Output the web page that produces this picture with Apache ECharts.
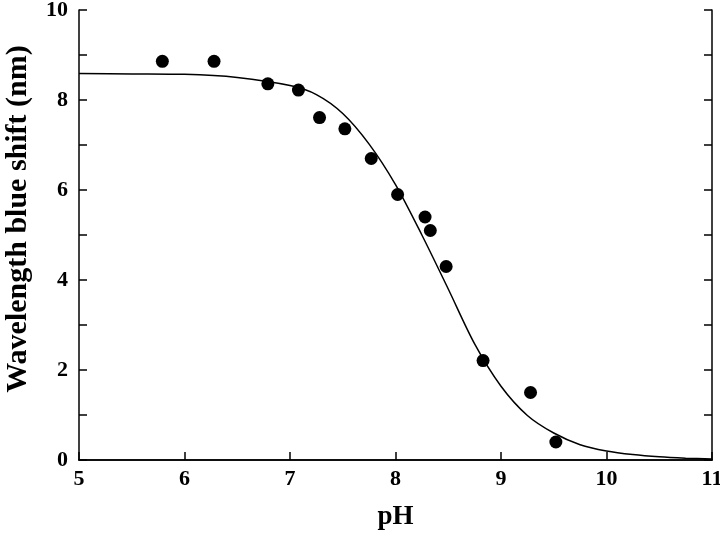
<!DOCTYPE html>
<html><head><meta charset="utf-8">
<script src="https://cdn.jsdelivr.net/npm/echarts@6/dist/echarts.min.js"></script>
<style>html,body{margin:0;padding:0;background:#fff}#c{width:720px;height:533px}</style>
</head><body><div id="c"></div>
<script>
const pointsX = [5.79, 6.28, 6.79, 7.08, 7.28, 7.52, 7.77, 8.02, 8.28, 8.33, 8.48, 8.83, 9.28, 9.52];
const pointsY = [8.86, 8.86, 8.36, 8.22, 7.61, 7.36, 6.70, 5.90, 5.40, 5.10, 4.30, 2.21, 1.50, 0.40];
const curveX = [5.0, 5.5, 6.0, 6.5, 7.0, 7.25, 7.5, 7.75, 8.0, 8.25, 8.5, 8.75, 9.0, 9.25, 9.5, 9.75, 10.0, 10.25, 10.5, 10.75, 11.0];
const curveY = [8.59, 8.58, 8.57, 8.50, 8.32, 8.12, 7.70, 7.02, 6.12, 5.00, 3.80, 2.58, 1.64, 0.99, 0.60, 0.34, 0.20, 0.12, 0.07, 0.04, 0.02];
const xTitle = 'pH';
const yTitle = 'Wavelength blue shift (nm)';

const font = '"Liberation Serif", "Times New Roman", serif';
const chart = echarts.init(document.getElementById('c'), null, {renderer: 'canvas'});
const lineStyle = {color: '#000', width: 1.5};
chart.setOption({
  animation: false,
  backgroundColor: '#fff',
  grid: {left: 79, right: 8, top: 10, bottom: 73, containLabel: false, outerBoundsMode: 'none'},
  xAxis: [{
    type: 'value', min: 5, max: 11, interval: 1, position: 'bottom',
    name: xTitle, nameLocation: 'middle', nameGap: 44,
    nameTextStyle: {fontFamily: font, fontWeight: 'bold', fontSize: 27, color: '#000'},
    axisLine: {lineStyle: lineStyle},
    axisTick: {inside: true, length: 8, lineStyle: lineStyle},
    axisLabel: {fontFamily: font, fontWeight: 'bold', fontSize: 22, color: '#000', margin: 8,
      showMinLabel: true, showMaxLabel: true},
    splitLine: {show: false}
  }, {
    type: 'value', min: 5, max: 11, interval: 1, position: 'top',
    axisLine: {lineStyle: lineStyle}, axisTick: {show: false}, axisLabel: {show: false}, splitLine: {show: false}
  }],
  yAxis: [{
    type: 'value', min: 0, max: 10, interval: 1, position: 'left',
    name: yTitle, nameLocation: 'middle', nameGap: 46,
    nameTextStyle: {fontFamily: font, fontWeight: 'bold', fontSize: 30, color: '#000', padding: [0, 0, 0, 32]},
    axisLine: {show: true, lineStyle: lineStyle},
    axisTick: {show: true, inside: true, length: 8, lineStyle: lineStyle},
    axisLabel: {fontFamily: font, fontWeight: 'bold', fontSize: 22, color: '#000', margin: 11,
      formatter: v => (v % 2 === 0 ? String(v) : '')},
    splitLine: {show: false}
  }, {
    type: 'value', min: 0, max: 10, interval: 1, position: 'right',
    axisLine: {show: true, lineStyle: lineStyle},
    axisTick: {show: true, inside: true, length: 8, lineStyle: lineStyle},
    axisLabel: {show: false}, splitLine: {show: false}
  }],
  series: [{
    type: 'line', xAxisIndex: 0, yAxisIndex: 0,
    data: curveX.map((x, i) => [x, curveY[i]]),
    smooth: 0.3, showSymbol: false, symbol: 'none',
    lineStyle: {color: '#000', width: 1.5}, z: 2
  }, {
    type: 'scatter', xAxisIndex: 0, yAxisIndex: 0,
    data: pointsX.map((x, i) => [x, pointsY[i]]),
    symbol: 'circle', symbolSize: 13,
    itemStyle: {color: '#000', opacity: 1}, z: 3
  }]
});
</script></body></html>
